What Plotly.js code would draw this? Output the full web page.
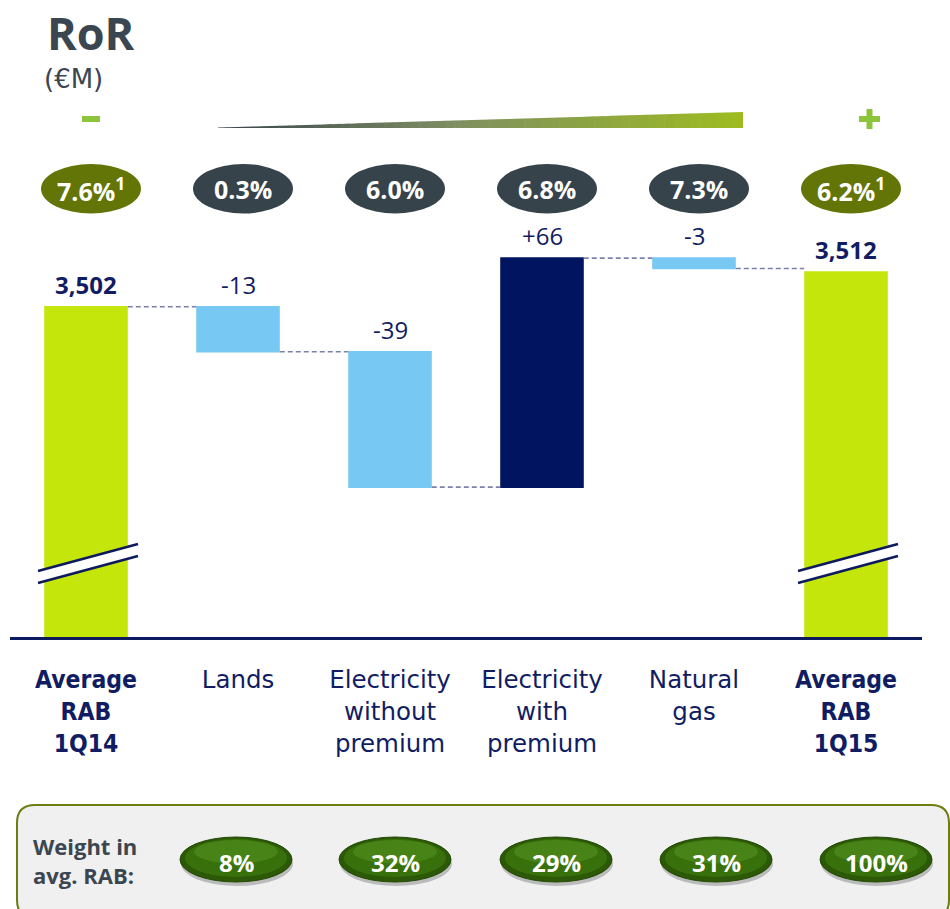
<!DOCTYPE html>
<html>
<head>
<meta charset="utf-8">
<script src="https://cdn.plot.ly/plotly-3.0.1.min.js"></script>
<style>
html,body{margin:0;padding:0;background:#ffffff;}
#chart{width:950px;height:909px;}
</style>
</head>
<body>
<div id="chart"></div>
<script>
// ---------------- data ----------------
const categories = ['Average RAB 1Q14', 'Lands', 'Electricity without premium', 'Electricity with premium', 'Natural gas', 'Average RAB 1Q15'];
const tickLabelLines = [['Average', 'RAB', '1Q14'], ['Lands'], ['Electricity', 'without', 'premium'], ['Electricity', 'with', 'premium'], ['Natural', 'gas'], ['Average', 'RAB', '1Q15']];
const measures = ['absolute', 'relative', 'relative', 'relative', 'relative', 'absolute'];
const values = [3502, -13, -39, 66, -3, 3512];
const rorRates = ['7.6%', '0.3%', '6.0%', '6.8%', '7.3%', '6.2%'];
const rorNotes = ['1', '', '', '', '', '1'];
const weightLabel = 'Weight in<br>avg. RAB:';
const weights = ['8%', '32%', '29%', '31%', '100%'];
const titleText = 'RoR';
const unitText = '(€M)';

// ---------------- geometry helpers ----------------
const W = 950, H = 909, ML = 10, MR = 28, MT = 230, MB = 272;
const PW = W - ML - MR, PH = H - MT - MB;
const X = p => (p - ML) / PW;
const Y = p => (H - MB - p) / PH;

const NAVY = '#111d63';
const TOTAL = '#c5e60a';
const DEC = '#77c8f2';
const INC = '#001460';
const SLATE = '#3b4651';

// tick labels
const tickText = tickLabelLines.map((lines, i) => {
  const bold = measures[i] === 'absolute';
  return lines.map(l => bold ? '<span style="font-family:DejaVu Sans Condensed, DejaVu Sans"><b>' + l + '</b></span>' : l).join('<br>');
});

// ---------------- trace ----------------
const trace = {
  type: 'waterfall',
  x: categories,
  y: values,
  measure: measures,
  textinfo: 'none',
  hoverinfo: 'none',
  totals: {marker: {color: TOTAL}},
  decreasing: {marker: {color: DEC}},
  increasing: {marker: {color: INC}},
  connector: {mode: 'between', line: {color: '#7d82a8', width: 1.6, dash: '5px,3px'}},
  showlegend: false
};

// ---------------- annotations ----------------
const annotations = [];
let level = 0;
measures.forEach((m, i) => {
  let top, label;
  if (m === 'absolute') {
    level = values[i];
    top = level;
    label = '<b>' + values[i].toLocaleString('en-US') + '</b>';
  } else {
    const prev = level;
    level += values[i];
    top = Math.max(prev, level);
    label = (values[i] > 0 ? '+' : '') + values[i];
  }
  annotations.push({
    x: categories[i], y: top, xref: 'x', yref: 'y',
    text: label, showarrow: false, yanchor: 'bottom', yshift: 4,
    font: {family: 'Open Sans', size: 24, color: NAVY}
  });
  // rate bubbles text
  annotations.push({
    x: categories[i], xref: 'x', xshift: 5, y: Y(189), yref: 'paper',
    text: rorRates[i] + (rorNotes[i] ? '<sup>' + rorNotes[i] + '</sup>' : ''),
    showarrow: false, yanchor: 'middle', xanchor: 'center',
    font: {family: 'Open Sans', size: 25, color: '#ffffff', weight: 'bold'}
  });
});

// title & unit
annotations.push({x: X(91), y: Y(32), xref: 'paper', yref: 'paper', text: '<b>' + titleText + '</b>', showarrow: false,
  xanchor: 'center', yanchor: 'middle', font: {family: 'Open Sans', size: 45, color: SLATE}});
annotations.push({x: X(73), y: Y(79), xref: 'paper', yref: 'paper', text: unitText, showarrow: false,
  xanchor: 'center', yanchor: 'middle', font: {family: 'DejaVu Sans', size: 26, color: SLATE}});

// weight row
annotations.push({x: X(31), y: Y(860), xref: 'paper', yref: 'paper', text: '<b>' + weightLabel + '</b>', showarrow: false,
  xanchor: 'left', yanchor: 'middle', align: 'left', font: {family: 'Open Sans', size: 22, color: SLATE}});

// ---------------- shapes ----------------
const shapes = [];
const pathOf = pts => pts.map((p, k) => (k === 0 ? 'M' : 'L') + X(p[0]).toFixed(5) + ',' + Y(p[1]).toFixed(5)).join(' ') + ' Z';

// rate bubbles
const bubbleHalf = 50 / 152, bubbleOff = 5 / 152;
measures.forEach((m, i) => {
  shapes.push({type: 'circle', xref: 'x', yref: 'paper', x0: i - bubbleHalf + bubbleOff, x1: i + bubbleHalf + bubbleOff,
    y0: Y(213.5), y1: Y(164), fillcolor: m === 'absolute' ? '#647507' : '#37434b', line: {width: 0}, layer: 'above'});
});

// minus / plus signs
const SIGN = '#8cc43c';
shapes.push({type: 'rect', xref: 'paper', yref: 'paper', x0: X(82), x1: X(100), y0: Y(122), y1: Y(116), fillcolor: SIGN, line: {width: 0}});
shapes.push({type: 'rect', xref: 'paper', yref: 'paper', x0: X(859), x1: X(880), y0: Y(122), y1: Y(116), fillcolor: SIGN, line: {width: 0}});
shapes.push({type: 'rect', xref: 'paper', yref: 'paper', x0: X(866.5), x1: X(872.5), y0: Y(129), y1: Y(109), fillcolor: SIGN, line: {width: 0}});

// gradient wedge
const stops = [[0, [58, 68, 78]], [0.45, [127, 143, 98]], [1, [157, 188, 32]]];
function colAt(t) {
  for (let k = 0; k < stops.length - 1; k++) {
    const a = stops[k], b = stops[k + 1];
    if (t <= b[0]) {
      const u = (t - a[0]) / (b[0] - a[0]);
      const c = a[1].map((v, j) => Math.round(v + (b[1][j] - v) * u));
      return 'rgb(' + c.join(',') + ')';
    }
  }
  return 'rgb(' + stops[stops.length - 1][1].join(',') + ')';
}
const wx0 = 218, wx1 = 743, wBot = 128, wTop0 = 127.5, wTop1 = 112;
const NS = 60;
for (let k = 0; k < NS; k++) {
  const xa = wx0 + (wx1 - wx0) * k / NS, xb = wx0 + (wx1 - wx0) * (k + 1) / NS + 0.6;
  const ta = wTop0 + (wTop1 - wTop0) * (xa - wx0) / (wx1 - wx0);
  const tb = wTop0 + (wTop1 - wTop0) * (Math.min(xb, wx1) - wx0) / (wx1 - wx0);
  shapes.push({type: 'path', xref: 'paper', yref: 'paper', path: pathOf([[xa, wBot], [xa, ta], [Math.min(xb, wx1), tb], [Math.min(xb, wx1), wBot]]),
    fillcolor: colAt((k + 0.5) / NS), line: {width: 0}});
}

// axis break marks (first and last bars)
[0, 760].forEach(dx => {
  shapes.push({type: 'path', xref: 'paper', yref: 'paper', layer: 'above',
    path: pathOf([[38 + dx, 571], [138 + dx, 544], [138 + dx, 556], [38 + dx, 583]]), fillcolor: '#ffffff', line: {width: 0}});
  shapes.push({type: 'line', xref: 'paper', yref: 'paper', layer: 'above', x0: X(38 + dx), y0: Y(571), x1: X(138 + dx), y1: Y(544), line: {color: '#0d1a5e', width: 2.5}});
  shapes.push({type: 'line', xref: 'paper', yref: 'paper', layer: 'above', x0: X(38 + dx), y0: Y(583), x1: X(138 + dx), y1: Y(556), line: {color: '#0d1a5e', width: 2.5}});
});

// bottom panel (rounded rectangle)
function roundRect(x0, y0, x1, y1, r) {
  const p = (a, b) => X(a).toFixed(5) + ',' + Y(b).toFixed(5);
  return 'M' + p(x0, y1 - r) + ' L' + p(x0, y0 + r) + ' Q' + p(x0, y0) + ' ' + p(x0 + r, y0) +
    ' L' + p(x1 - r, y0) + ' Q' + p(x1, y0) + ' ' + p(x1, y0 + r) +
    ' L' + p(x1, y1 - r) + ' Q' + p(x1, y1) + ' ' + p(x1 - r, y1) +
    ' L' + p(x0 + r, y1) + ' Q' + p(x0, y1) + ' ' + p(x0, y1 - r) + ' Z';
}
shapes.push({type: 'path', xref: 'paper', yref: 'paper', path: roundRect(17, 805, 949, 918, 18),
  fillcolor: '#f0f0f0', line: {color: '#6d7d12', width: 2}});

// weight pills
const pillX = [236, 395, 556, 716, 876];
const pillY = 859.5, pw = 112, ph = 45;
weights.forEach((w, i) => {
  const cx = pillX[i];
  shapes.push({type: 'circle', xref: 'paper', yref: 'paper', x0: X(cx - pw / 2 + 1), x1: X(cx + pw / 2 + 1), y0: Y(pillY + ph / 2 + 4), y1: Y(pillY - ph / 2 + 4),
    fillcolor: 'rgba(0,0,0,0.22)', line: {width: 0}});
  shapes.push({type: 'circle', xref: 'paper', yref: 'paper', x0: X(cx - pw / 2), x1: X(cx + pw / 2), y0: Y(pillY + ph / 2), y1: Y(pillY - ph / 2),
    fillcolor: '#2b5907', line: {color: '#234a06', width: 1}});
  shapes.push({type: 'circle', xref: 'paper', yref: 'paper', x0: X(cx - pw / 2 + 5), x1: X(cx + pw / 2 - 5), y0: Y(pillY + ph / 2 - 5), y1: Y(pillY - ph / 2 + 2),
    fillcolor: '#38700c', line: {width: 0}});
  shapes.push({type: 'circle', xref: 'paper', yref: 'paper', x0: X(cx - pw / 2 + 14), x1: X(cx + pw / 2 - 14), y0: Y(pillY + 4), y1: Y(pillY - ph / 2 + 3),
    fillcolor: '#4a8619', opacity: 0.85, line: {width: 0}});
  annotations.push({x: X(cx), y: Y(862), xref: 'paper', yref: 'paper', text: '<b>' + w + '</b>', showarrow: false,
    xanchor: 'center', yanchor: 'middle', font: {family: 'Open Sans', size: 24, color: '#ffffff'}});
});

// ---------------- layout ----------------
const layout = {
  width: W, height: H,
  margin: {l: ML, r: MR, t: MT, b: MB, pad: 0},
  paper_bgcolor: '#ffffff', plot_bgcolor: '#ffffff',
  font: {family: 'DejaVu Sans', color: NAVY},
  showlegend: false,
  waterfallgap: 0.45,
  xaxis: {
    type: 'category', tickmode: 'array', tickvals: categories, ticktext: tickText,
    showline: true, linecolor: '#0d1a5e', linewidth: 3, ticks: '', showgrid: false, zeroline: false,
    tickfont: {family: 'DejaVu Sans', size: 24.5, color: NAVY}, ticklabelstandoff: 19,
    range: [-0.5, 5.5], fixedrange: true
  },
  yaxis: {
    range: [3406.8, 3524.1], visible: false, showgrid: false, zeroline: false, fixedrange: true
  },
  shapes: shapes,
  annotations: annotations
};

Plotly.newPlot('chart', [trace], layout, {displayModeBar: false, staticPlot: true});
</script>
</body>
</html>
